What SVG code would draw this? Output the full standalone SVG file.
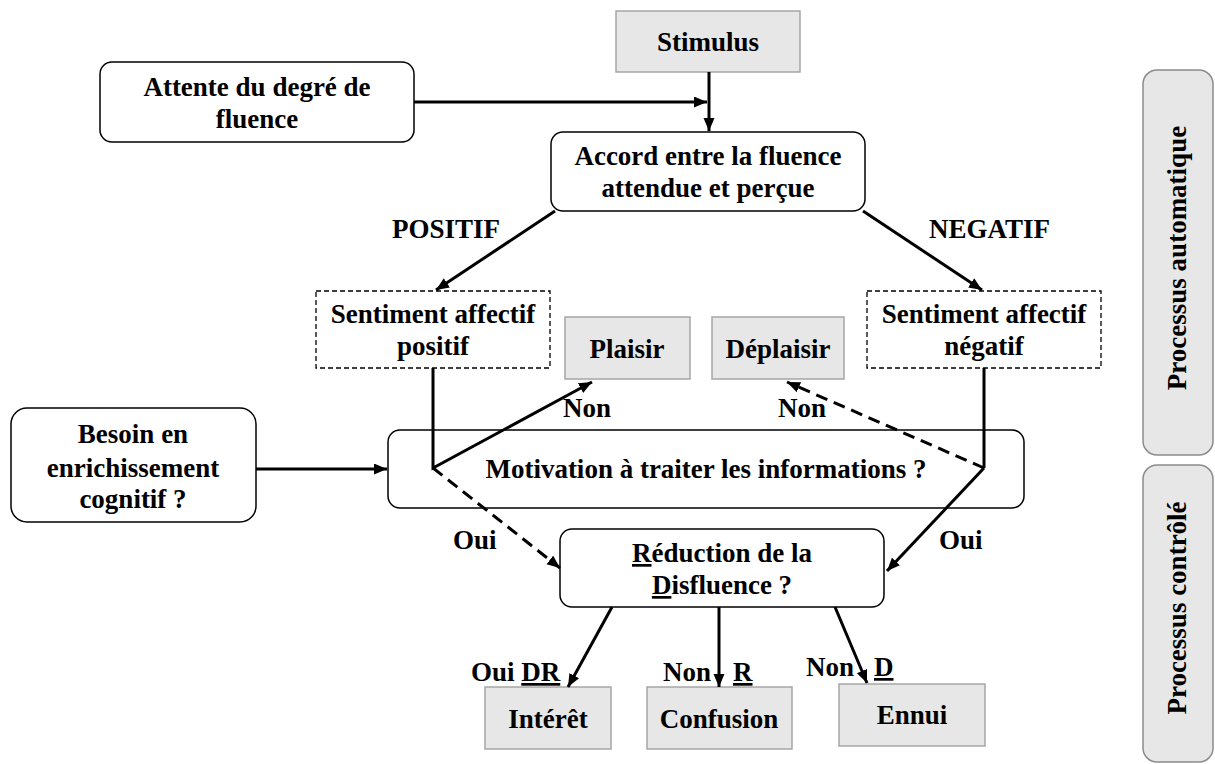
<svg xmlns="http://www.w3.org/2000/svg" width="1215" height="764" viewBox="0 0 1215 764">
<style>
text{font-family:"Liberation Serif","Times New Roman",serif;font-weight:bold;font-size:27px;fill:#000}
.c{text-anchor:middle}
.box{fill:#fff;stroke:#000;stroke-width:1.5}
.dbox{fill:#fff;stroke:#000;stroke-width:1.3;stroke-dasharray:5 3}
.gbox{fill:#e7e7e7;stroke:#a6a6a6;stroke-width:1.5}
.side{fill:#e7e7e7;stroke:#8c8c8c;stroke-width:1.5}
.ln{fill:none;stroke:#000;stroke-width:3}
.dl{fill:none;stroke:#000;stroke-width:3;stroke-dasharray:12 7}
.u{text-decoration:underline}
</style>
<defs>
<marker id="ah" markerUnits="userSpaceOnUse" markerWidth="16" markerHeight="14" refX="13" refY="5.5" orient="auto">
<path d="M0,0 L13,5.5 L0,11 z" fill="#000"/>
</marker>
</defs>

<g id="stimulus"><rect class="gbox" x="616" y="11" width="184" height="61"/><text class="c" x="708" y="51">Stimulus</text></g>
<g id="attente"><rect class="box" x="100" y="62" width="314" height="80" rx="12"/><text class="c" x="257" y="96">Attente du degré de</text><text class="c" x="257" y="128">fluence</text></g>
<g id="accord"><rect class="box" x="551" y="132" width="314" height="79" rx="12"/><text class="c" x="708" y="165">Accord entre la fluence</text><text class="c" x="708" y="197">attendue et perçue</text></g>
<g id="sent-pos"><rect class="dbox" x="316" y="291" width="234" height="77"/><text class="c" x="433" y="323">Sentiment affectif</text><text class="c" x="433" y="355">positif</text></g>
<g id="sent-neg"><rect class="dbox" x="867" y="291" width="234" height="77"/><text class="c" x="984" y="323">Sentiment affectif</text><text class="c" x="984" y="355">négatif</text></g>
<g id="plaisir"><rect class="gbox" x="565" y="317" width="125" height="62"/><text class="c" x="627" y="358">Plaisir</text></g>
<g id="deplaisir"><rect class="gbox" x="712" y="317" width="132" height="62"/><text class="c" x="778" y="358">Déplaisir</text></g>
<g id="besoin"><rect class="box" x="11" y="408" width="245" height="114" rx="16"/><text class="c" x="133" y="443">Besoin en</text><text class="c" x="133" y="477">enrichissement</text><text class="c" x="133" y="508">cognitif ?</text></g>
<g id="motivation"><rect class="box" x="388" y="430" width="636" height="78" rx="12"/><text class="c" x="706" y="478">Motivation à traiter les informations ?</text></g>
<g id="reduction"><rect class="box" x="560" y="529" width="324" height="78" rx="12"/><text class="c" x="722" y="562"><tspan class="u">R</tspan>éduction de la</text><text class="c" x="722" y="594"><tspan class="u">D</tspan>isfluence ?</text></g>
<g id="interet"><rect class="gbox" x="485" y="687" width="126" height="62"/><text class="c" x="548" y="728">Intérêt</text></g>
<g id="confusion"><rect class="gbox" x="647" y="687" width="145" height="62"/><text class="c" x="719" y="728">Confusion</text></g>
<g id="ennui"><rect class="gbox" x="839" y="684" width="146" height="62"/><text class="c" x="912" y="724">Ennui</text></g>
<g id="proc-auto"><rect class="side" x="1143" y="70" width="70" height="385" rx="14"/><text class="c" transform="translate(1186,258) rotate(-90)">Processus automatique</text></g>
<g id="proc-ctrl"><rect class="side" x="1143" y="465" width="70" height="297" rx="14"/><text class="c" transform="translate(1186,608) rotate(-90)">Processus contrôlé</text></g>

<g id="connectors">
<path class="ln" d="M414,102 H707" marker-end="url(#ah)"/>
<path class="ln" d="M709,72 V131" marker-end="url(#ah)"/>
<path class="ln" d="M555,211 L436,290" marker-end="url(#ah)"/>
<path class="ln" d="M863,211 L982,290" marker-end="url(#ah)"/>
<path class="ln" d="M433,368 V468 L592,382" marker-end="url(#ah)"/>
<path class="ln" d="M984,368 V468"/>
<path class="dl" d="M984,468 L787,382" marker-end="url(#ah)"/>
<path class="dl" d="M433,468 L560,568" marker-end="url(#ah)"/>
<path class="ln" d="M984,468 L887,571" marker-end="url(#ah)"/>
<path class="ln" d="M256,469 H387" marker-end="url(#ah)"/>
<path class="ln" d="M612,607 L568,687" marker-end="url(#ah)"/>
<path class="ln" d="M719,607 V687" marker-end="url(#ah)"/>
<path class="ln" d="M835,607 L867,683" marker-end="url(#ah)"/>
</g>

<g id="labels">
<text x="392" y="238">POSITIF</text>
<text x="929" y="238">NEGATIF</text>
<text x="563" y="417">Non</text>
<text x="778" y="417">Non</text>
<text x="453" y="549">Oui</text>
<text x="939" y="549">Oui</text>
<text x="471" y="681">Oui <tspan class="u">DR</tspan></text>
<text x="663" y="681">Non</text>
<text x="733" y="681" class="u">R</text>
<text x="806" y="676">Non</text>
<text x="874" y="676" class="u">D</text>
</g>
</svg>
